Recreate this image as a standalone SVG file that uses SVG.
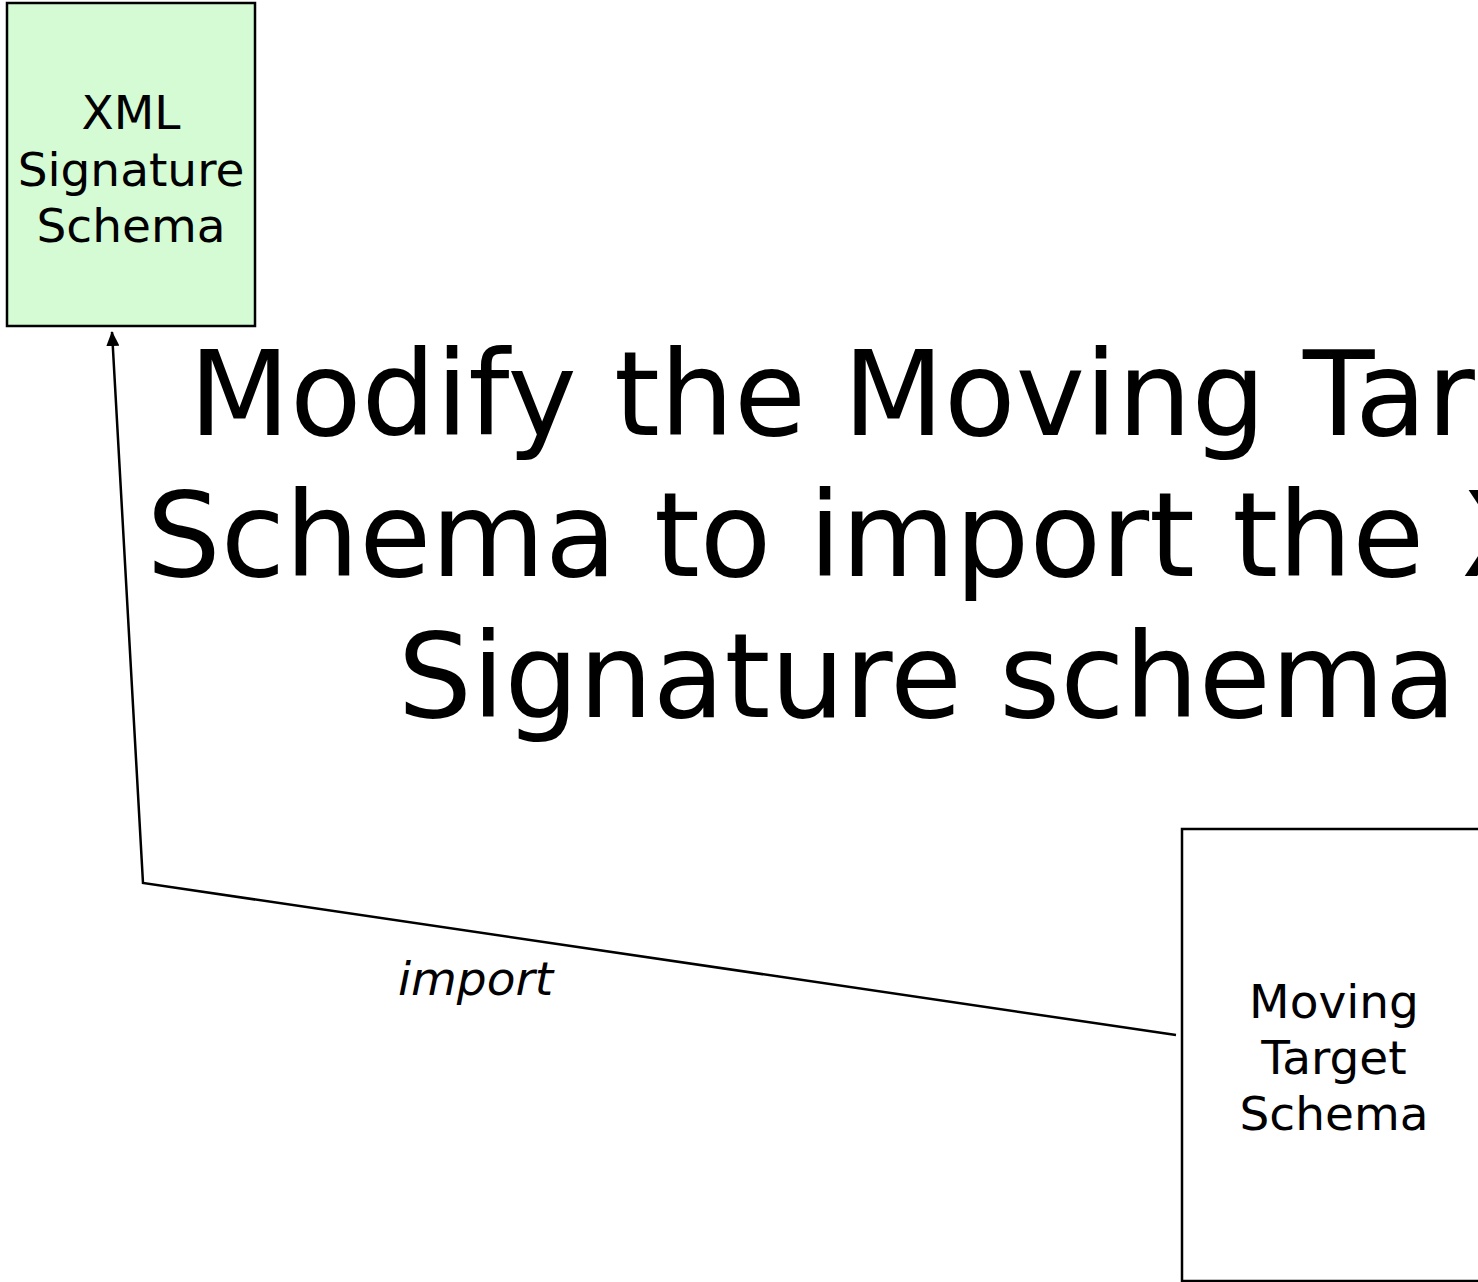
<svg xmlns="http://www.w3.org/2000/svg" width="1478" height="1282" viewBox="0 0 1478 1282">
  <style>
    .box { stroke: #000; stroke-width: 2.5; }
    .label { font-family: "DejaVu Sans", Verdana, sans-serif; font-size: 47px; fill: #000; text-anchor: middle; }
    .title { font-family: "DejaVu Sans", Verdana, sans-serif; font-size: 117px; fill: #000; text-anchor: middle; }
    .edge { fill: none; stroke: #000; stroke-width: 2.5; }
    .edge-label { font-family: "DejaVu Sans", Verdana, sans-serif; font-size: 47px; font-style: italic; fill: #000; }
  </style>
  <defs>
    <marker id="arrow" viewBox="0 0 15 13" refX="14" refY="6.5" markerWidth="15" markerHeight="13" markerUnits="userSpaceOnUse" orient="auto">
      <path d="M0,0 L15,6.5 L0,13 Z" fill="#000"/>
    </marker>
  </defs>
  <rect width="1478" height="1282" fill="#fff"/>

  <!-- heading -->
  <g id="title">
    <text class="title" x="927" y="435">Modify the Moving Target</text>
    <text class="title" x="927" y="576">Schema to import the XML</text>
    <text class="title" x="927" y="717">Signature schema</text>
  </g>

  <!-- imported schema -->
  <g id="xml-signature-schema">
    <rect class="box" x="7" y="3" width="248" height="323" fill="#d4fbd4"/>
    <text class="label" x="131" y="129">XML</text>
    <text class="label" x="131" y="186">Signature</text>
    <text class="label" x="131" y="242">Schema</text>
  </g>

  <!-- importing schema -->
  <g id="moving-target-schema">
    <rect class="box" x="1182" y="829" width="306" height="452" fill="#fff"/>
    <text class="label" x="1334" y="1018">Moving</text>
    <text class="label" x="1334" y="1074">Target</text>
    <text class="label" x="1334" y="1130">Schema</text>
  </g>

  <!-- connectors -->
  <g id="connectors">
    <path class="edge" d="M1176,1035 L143,883 L112,332" marker-end="url(#arrow)"/>
    <text class="edge-label" x="398" y="995">import</text>
  </g>
</svg>
